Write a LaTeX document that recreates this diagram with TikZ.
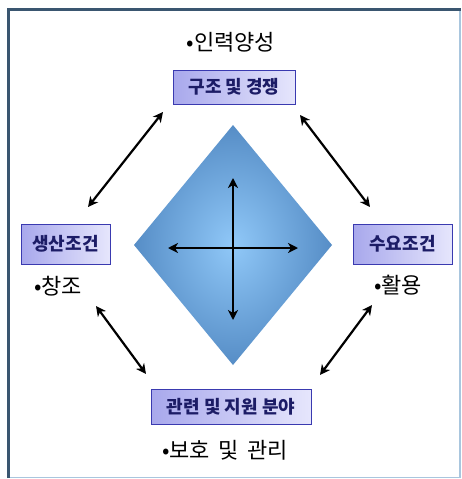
\documentclass[tikz,border=0pt]{standalone}
\usepackage{fontspec}
\setmainfont{Noto Sans CJK KR}
\newfontfamily\kr{Noto Sans CJK KR}
\usetikzlibrary{arrows.meta,shadings}
\definecolor{framedark}{HTML}{3A5670}
\definecolor{framelight}{HTML}{A9C6DE}
\definecolor{boxborder}{HTML}{3A3AB0}
\definecolor{boxtext}{HTML}{1C1C66}
\definecolor{boxleft}{HTML}{A8A8EC}
\definecolor{boxright}{HTML}{E6E6FC}
\definecolor{dmdin}{HTML}{90C8F8}
\definecolor{dmdout}{HTML}{568DC6}
\tikzset{
  x=1pt, y=-1pt,
  boxnode/.style={draw=boxborder, line width=1pt, left color=boxleft, right color=boxright,
    text=boxtext, font=\kr\fontsize{18}{20}\selectfont\bfseries, inner sep=0pt},
  bultext/.style={font=\kr\fontsize{22}{24}\selectfont, text=black, inner sep=0pt},
  dblarrow/.style={line width=2.2pt, {Stealth[length=10pt,width=10pt,inset=3pt]}-{Stealth[length=10pt,width=10pt,inset=3pt]}},
}
\begin{document}
\begin{tikzpicture}
\useasboundingbox (0,0) rectangle (462,479);
\fill[white] (0,0) rectangle (462,479);
% frame
\draw[framelight, line width=1.2pt] (460,9) -- (460,477.5) -- (8,477.5);
\draw[framedark, line width=3pt] (8,478) -- (8,9) -- (461,9);
% diamond
\shade[inner color=dmdin, outer color=dmdout] (233,125) -- (332,245) -- (233,365) -- (134,245) -- cycle;
\coordinate (ct) at (233,178);
\coordinate (cb) at (233,320);
\coordinate (cl) at (168,248);
\coordinate (cr) at (298,248);
\draw[dblarrow] (ct) -- (cb);
\draw[dblarrow] (cl) -- (cr);
% boxes
\node[boxnode, minimum width=122pt, minimum height=34pt] (top) at (234,87) {구조 및 경쟁};
\node[boxnode, minimum width=89pt, minimum height=40pt] (left) at (65.5,244) {생산조건};
\node[boxnode, minimum width=99pt, minimum height=40pt] (right) at (402.5,244) {수요조건};
\node[boxnode, minimum width=160pt, minimum height=35pt] (bot) at (231,406.5) {관련 및 지원 분야};
% bullet texts
\node[bultext] (t1) at (231,42) {•인력양성};
\node[bultext] (t2) at (58,286) {•창조};
\node[bultext] (t3) at (398,285) {•활용};
\node[bultext] (t4) at (225,450) {•보호 \,및 \,관리};
% diagonal arrows
\coordinate (a1) at (163,112);
\coordinate (a2) at (88,207);
\coordinate (b1) at (300,115);
\coordinate (b2) at (370,207);
\coordinate (c1) at (96,306);
\coordinate (c2) at (146,374);
\coordinate (d1) at (372,305);
\coordinate (d2) at (320,375);
\draw[dblarrow] (a1) -- (a2);
\draw[dblarrow] (b1) -- (b2);
\draw[dblarrow] (c1) -- (c2);
\draw[dblarrow] (d1) -- (d2);
\end{tikzpicture}
\end{document}
